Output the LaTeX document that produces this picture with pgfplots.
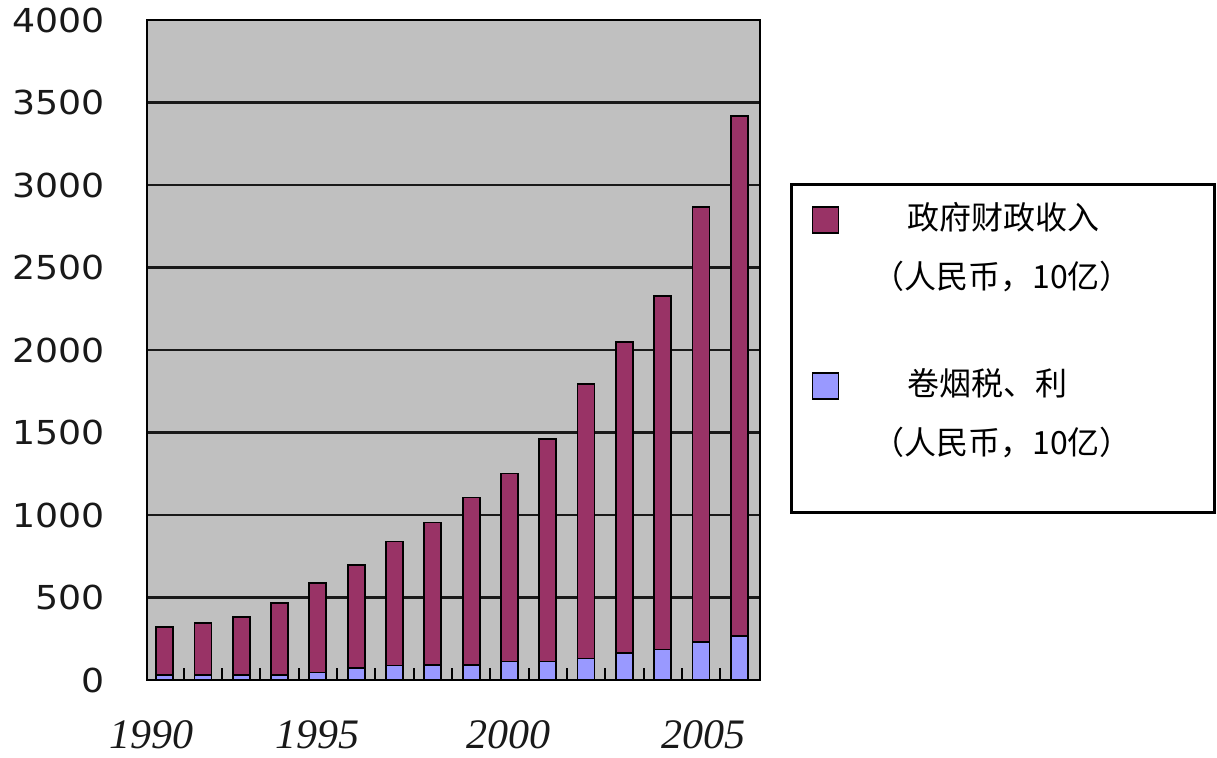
\documentclass[border=0pt]{standalone}
\usepackage{fontspec}
\usepackage{pgfplots}
\usepackage{pgfplotstable}
\pgfplotsset{compat=1.18}
\setmainfont{Liberation Serif}
\newfontfamily\cjk{Noto Sans CJK SC}
\newfontfamily\tickfont[FakeStretch=1.1]{DejaVu Sans}
\newfontfamily\yearfont{Liberation Serif}

\definecolor{revenue}{HTML}{993366}
\definecolor{tobacco}{HTML}{9999FF}
\definecolor{plotbg}{HTML}{C0C0C0}

% government revenue and tobacco tax/profit, billion RMB, 1990-2005
\pgfplotstableread{
idx total tobacco
0   322   30
1   347   30
2   383   30
3   468   30
4   590   45
5   699   75
6   839   88
7   954   90
8   1106  90
9   1252  112
10  1459  112
11  1793  130
12  2049  165
13  2328  185
14  2869  228
15  3416  265
}\revenuetable

\begin{document}
\begin{tikzpicture}
\begin{axis}[
  name=main,
  scale only axis,
  width=306.5pt, height=330pt,
  xmin=-0.46, xmax=15.54,
  ymin=0, ymax=4000,
  axis background/.style={fill=plotbg},
  axis line style={line width=1.3pt, black},
  ytick={0,500,...,4000},
  yticklabels={0,500,1000,1500,2000,2500,3000,3500,4000},
  ymajorgrids,
  grid style={line width=1.3pt, black!90},
  xtick={-0.33,4.0,8.97,14.06},
  xticklabels={1990,1995,2000,2005},
  minor xtick={0.5,1.5,...,14.5},
  major tick length=0pt,
  minor tick length=6pt,
  tick align=inside,
  xtick pos=left, ytick pos=left,
  minor tick style={line width=1pt, black},
  yticklabel style={font=\tickfont\fontsize{16.5pt}{18pt}\selectfont,
    text=black!90, anchor=east, inner sep=0pt, xshift=-21pt},
  xticklabel style={font=\yearfont\itshape\fontsize{21pt}{23pt}\selectfont,
    text=black!90, anchor=north, inner sep=0pt, yshift=-20pt},
  legend style={
    at={(1.049,0.753)}, anchor=north west,
    draw=black, line width=1.5pt, fill=white,
    inner xsep=10pt, inner ysep=7pt,
    column sep=14.5pt, row sep=34.4pt,
    cells={anchor=base west, align=left, text width=159pt, inner sep=0pt,
      font=\cjk\fontsize{16pt}{29.5pt}\selectfont},
    nodes={text depth={}},
  },
  legend image code/.code={%
    \draw[#1, line width=0.9pt, draw=black] (0pt,-1.5pt) rectangle (13pt,11.5pt);},
]
\addplot[ybar, bar shift=0pt, bar width=8.5pt, fill=revenue, draw=black, line width=0.9pt]
  table[x=idx, y=total] {\revenuetable};
\addlegendentry{\hspace*{17.5pt}政府财政收入\\（人民币，10亿）}
\addplot[ybar, bar shift=0pt, bar width=8.5pt, fill=tobacco, draw=black, line width=0.9pt]
  table[x=idx, y=tobacco] {\revenuetable};
\addlegendentry{\hspace*{17.5pt}卷烟税、利\\（人民币，10亿）\rule[-20pt]{0pt}{20pt}}
\end{axis}
\pgfresetboundingbox
\useasboundingbox ([shift={(-73.5pt,-38.5pt)}]main.south west)
  rectangle ([shift={(535pt,340pt)}]main.south west);
\end{tikzpicture}
\end{document}
